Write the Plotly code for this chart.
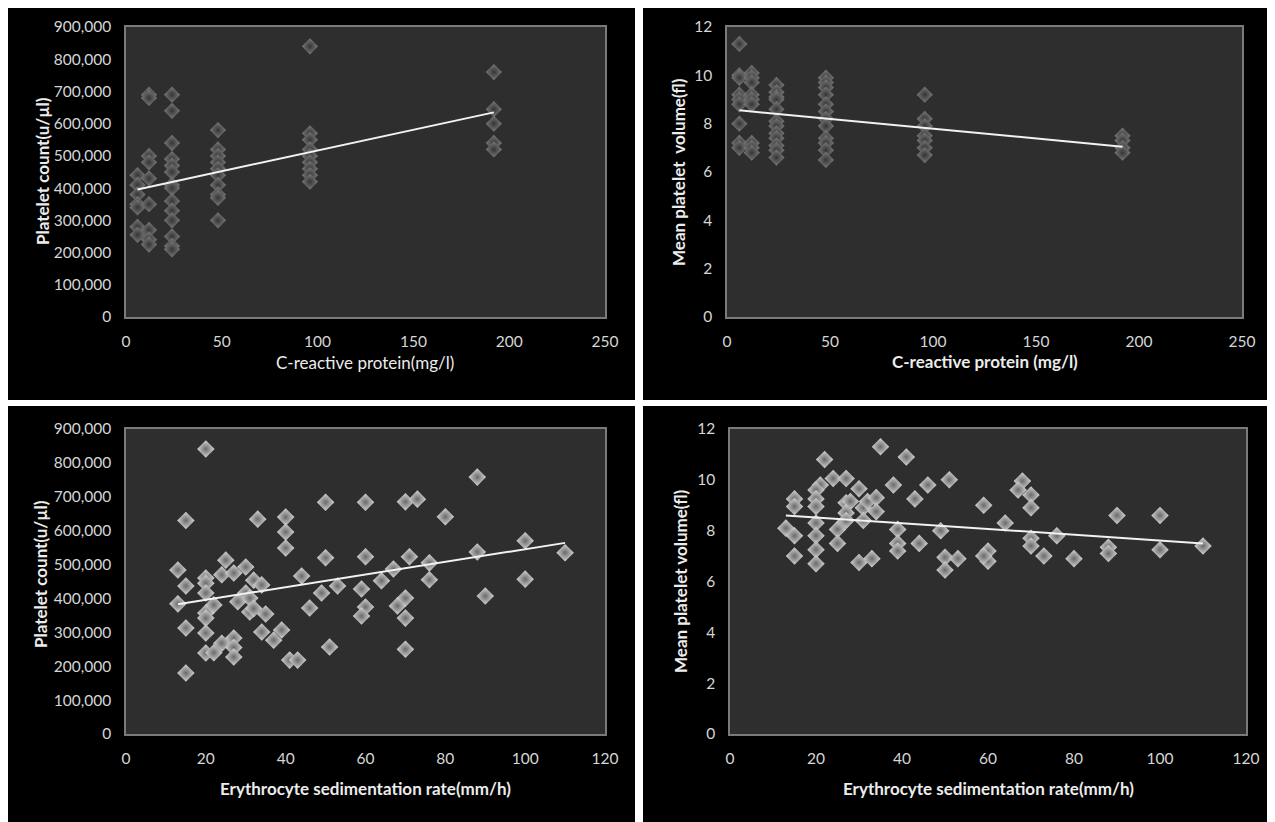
import plotly.graph_objects as go

# ---------------- data ----------------
# Panel 1: C-reactive protein (mg/l) vs platelet count
crp_plt_x = ([6] * 7 + [12] * 9 + [24] * 14 + [48] * 10 + [96] * 9 + [192] * 5)
crp_plt_y = [440000, 410000, 380000, 350000, 340000, 280000, 255000,
             690000, 680000, 500000, 480000, 430000, 350000, 270000, 240000, 225000,
             690000, 640000, 540000, 490000, 470000, 450000, 410000, 400000, 360000,
             330000, 300000, 250000, 220000, 210000,
             580000, 520000, 500000, 480000, 460000, 440000, 410000, 380000, 370000, 300000,
             840000, 570000, 550000, 520000, 500000, 480000, 460000, 440000, 420000,
             760000, 645000, 600000, 540000, 520000]
crp_plt_trend_x = [6, 192]
crp_plt_trend_y = [396000, 635000]

# Panel 2: C-reactive protein (mg/l) vs mean platelet volume
crp_mpv_x = ([6] * 9 + [12] * 9 + [24] * 12 + [48] * 12 + [96] * 7 + [192] * 4)
crp_mpv_y = [11.3, 10.0, 9.9, 9.2, 9.0, 8.8, 8.0, 7.2, 7.0,
             10.1, 9.9, 9.7, 9.2, 9.0, 8.8, 7.2, 7.0, 6.8,
             9.6, 9.3, 9.1, 9.0, 8.6, 8.1, 7.9, 7.6, 7.4, 7.1, 6.9, 6.6,
             9.9, 9.7, 9.5, 9.2, 8.8, 8.5, 8.2, 7.9, 7.4, 7.2, 6.9, 6.5,
             9.2, 8.2, 7.9, 7.5, 7.3, 7.0, 6.7,
             7.5, 7.3, 7.0, 6.8]
crp_mpv_trend_x = [6, 192]
crp_mpv_trend_y = [8.55, 7.05]

# Panel 3: erythrocyte sedimentation rate (mm/h) vs platelet count
esr_plt_x = [20, 15, 33, 40, 40, 40, 50, 60, 70, 73, 88, 80, 100, 110, 88, 50, 60, 71,
             76, 67, 76, 64, 53, 49, 59, 100, 90, 70, 68, 60, 59, 70, 51, 70,
             13, 15, 13, 15, 15, 20, 20, 20, 20, 20, 20, 20, 22, 22, 25, 24, 27,
             24, 27, 27, 27, 30, 30, 32, 31, 28, 31, 32, 34, 35, 34, 39, 37, 41,
             43, 44, 46]
esr_plt_y = [841000, 630000, 634000, 640000, 596000, 549000, 684000, 684000, 685000,
             693000, 758000, 641000, 570000, 535000, 537000, 520000, 523000, 523000,
             505000, 487000, 455000, 452000, 437000, 416000, 428000, 457000, 407000,
             401000, 378000, 375000, 348000, 342000, 257000, 250000,
             484000, 437000, 384000, 313000, 180000, 460000, 445000, 416000, 357000,
             342000, 298000, 239000, 240000, 381000, 513000, 470000, 475000, 268000,
             283000, 255000, 227000, 493000, 416000, 454000, 401000, 390000, 360000,
             370000, 440000, 354000, 301000, 307000, 277000, 218000, 218000, 466000,
             372000]
esr_plt_trend_x = [13, 110]
esr_plt_trend_y = [383000, 564000]

# Panel 4: erythrocyte sedimentation rate (mm/h) vs mean platelet volume
esr_mpv_x = [35, 22, 41, 24, 27, 30, 21, 38, 46, 51, 43, 15, 15, 20, 20, 20, 27, 28,
             31, 32, 34, 34, 27, 27, 31, 25, 20, 20, 13, 15, 39, 49, 25, 39, 44, 39,
             15, 20, 20, 30, 33, 50, 50, 53, 59, 64, 68, 67, 70, 70, 76, 70, 70, 73,
             80, 88, 88, 90, 100, 100, 110, 60, 60, 59]
esr_mpv_y = [11.3, 10.8, 10.9, 10.05, 10.05, 9.65, 9.8, 9.8, 9.8, 10.0, 9.25, 9.25,
             8.95, 9.6, 9.25, 8.95, 9.1, 9.15, 8.9, 9.15, 9.3, 8.75, 8.7, 8.4, 8.4,
             8.05, 8.3, 7.8, 8.1, 7.8, 8.05, 8.0, 7.5, 7.5, 7.5, 7.2, 7.0, 7.25,
             6.7, 6.75, 6.9, 6.95, 6.45, 6.9, 9.0, 8.3, 9.95, 9.6, 9.4, 8.9, 7.8,
             7.7, 7.4, 7.0, 6.9, 7.35, 7.1, 8.6, 8.6, 7.25, 7.4, 7.2, 6.8, 7.0]
esr_mpv_trend_x = [13, 110]
esr_mpv_trend_y = [8.6, 7.5]

# ---------------- layout helpers ----------------
W, H = 1275, 822
OFF = 8  # the page places the figure 8 px from the top-left corner
FONT = "Lato, 'Open Sans', sans-serif"


def fx(x):
    return (x - OFF) / W


def fy(y):
    return 1 - (y - OFF) / H


fig = go.Figure()

dark_marker = dict(symbol="diamond", size=12.5, color="#7a7a7a",
                   gradient=dict(type="radial", color="#353535"), line=dict(width=0))
light_marker = dict(symbol="diamond", size=13.5, color="#d4d4d4",
                    gradient=dict(type="radial", color="#6a6a6a"), line=dict(width=0))

panels = [
    ("x", "y", crp_plt_x, crp_plt_y, crp_plt_trend_x, crp_plt_trend_y, dark_marker),
    ("x2", "y2", crp_mpv_x, crp_mpv_y, crp_mpv_trend_x, crp_mpv_trend_y, dark_marker),
    ("x3", "y3", esr_plt_x, esr_plt_y, esr_plt_trend_x, esr_plt_trend_y, light_marker),
    ("x4", "y4", esr_mpv_x, esr_mpv_y, esr_mpv_trend_x, esr_mpv_trend_y, light_marker),
]
for xa, ya, xs, ys, tx, ty, mk in panels:
    fig.add_trace(go.Scatter(x=xs, y=ys, mode="markers", marker=mk,
                             xaxis=xa, yaxis=ya, showlegend=False, hoverinfo="skip"))
    fig.add_trace(go.Scatter(x=tx, y=ty, mode="lines", line=dict(color="#f2f2f2", width=2),
                             xaxis=xa, yaxis=ya, showlegend=False, hoverinfo="skip"))

tickfont = dict(family=FONT, size=15.5, color="#d6d6d6")
common = dict(showgrid=False, zeroline=False, showline=True, linecolor="#7a7a7a",
              linewidth=1.5, mirror=True, ticks="", tickfont=tickfont, automargin=False)

# plot areas in page pixels: (left, right, top, bottom)
boxes = {
    1: (126, 605, 27, 317),
    2: (727, 1242, 27, 317),
    3: (126, 605, 429, 734),
    4: (730, 1246, 429, 734),
}
xranges = {1: ([0, 250], 50), 2: ([0, 250], 50), 3: ([0, 120], 20), 4: ([0, 120], 20)}
yranges = {1: ([0, 900000], 100000, ","), 2: ([0, 12], 2, ""),
           3: ([0, 900000], 100000, ","), 4: ([0, 12], 2, "")}

lay = {}
for i in range(1, 5):
    l, r, t, b = boxes[i]
    sx = "" if i == 1 else str(i)
    xr, xd = xranges[i]
    yr, yd, yf = yranges[i]
    lay["xaxis" + sx] = dict(common, domain=[fx(l), fx(r)], range=xr, dtick=xd,
                             anchor="y" + sx, ticklabelstandoff=10)
    lay["yaxis" + sx] = dict(common, domain=[fy(b), fy(t)], range=yr, dtick=yd,
                             tickformat=yf, anchor="x" + sx, ticklabelstandoff=10)

# white separators / frame (page pixels)
shapes = []
for (x0, y0, x1, y1) in [(635, 8, 643, 830), (8, 400, 1283, 406), (1273, 8, 1283, 400)]:
    shapes.append(dict(type="rect", xref="paper", yref="paper", x0=fx(x0), x1=fx(x1),
                       y0=fy(y1), y1=fy(y0), fillcolor="white", line=dict(width=0),
                       layer="below"))

title_font = dict(family=FONT, size=17, color="#ececec", weight="bold")
annots = [
    ("C-reactive protein(mg/l)", 365, 362, 0, "normal"),
    ("C-reactive protein (mg/l)", 985, 361, 0, "bold"),
    ("Erythrocyte sedimentation rate(mm/h)", 365, 788, 0, "bold"),
    ("Erythrocyte sedimentation rate(mm/h)", 988, 788, 0, "bold"),
    ("Platelet count(u/\u00b5l)", 42, 171, -90, "bold"),
    ("Mean platelet  volume(fl)", 679, 172, -90, "bold"),
    ("Platelet count(u/\u00b5l)", 40, 574, -90, "bold"),
    ("Mean platelet volume(fl)", 680, 581, -90, "bold"),
]
annotations = []
for text, x, y, ang, wt in annots:
    annotations.append(dict(text=text.replace("  ", "&nbsp; "), x=fx(x), y=fy(y),
                            xref="paper", yref="paper", showarrow=False, textangle=ang,
                            xanchor="center", yanchor="middle",
                            font=dict(title_font, weight=wt)))

fig.update_layout(
    width=W, height=H, margin=dict(l=0, r=0, t=0, b=0, pad=0, autoexpand=False),
    paper_bgcolor="black", plot_bgcolor="#2e2e2e",
    font=dict(family=FONT, color="#d6d6d6"),
    shapes=shapes, annotations=annotations, showlegend=False,
    **lay,
)

fig.write_html("out.html", config={"displayModeBar": False})
